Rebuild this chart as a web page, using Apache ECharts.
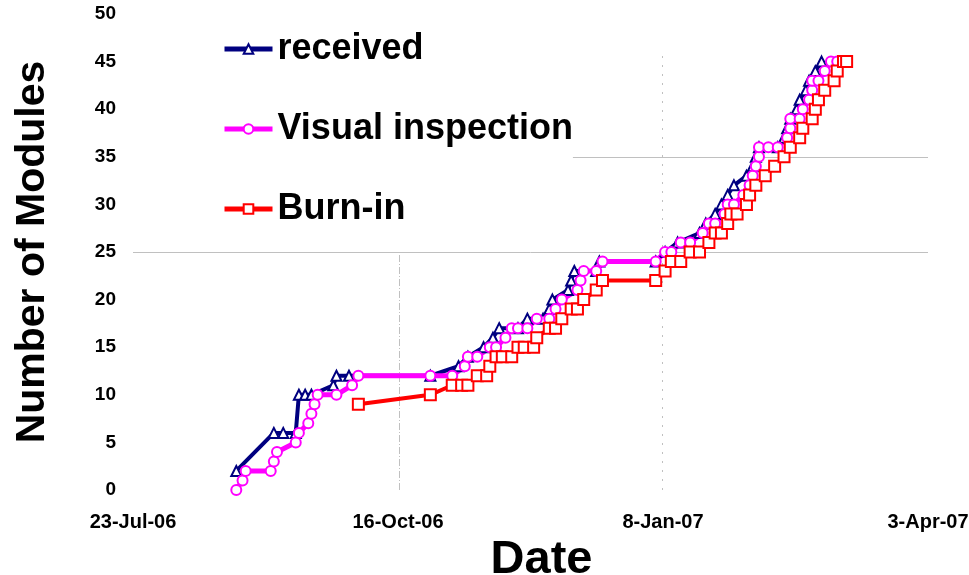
<!DOCTYPE html>
<html>
<head>
<meta charset="utf-8">
<title>Module production</title>
<script src="https://cdn.jsdelivr.net/npm/echarts@6/dist/echarts.min.js"></script>
<style>
  html, body { margin: 0; padding: 0; background: #fff; overflow: hidden; }
  #chart { width: 969px; height: 575px; }
</style>
</head>
<body>
<div id="chart"></div>
<script>
// Date axis tick labels and the dates they stand for
const tickLabels = ['23-Jul-06', '16-Oct-06', '8-Jan-07', '3-Apr-07'];
const tickDates = ['2006-07-23', '2006-10-16', '2007-01-08', '2007-04-03'];

// Horizontal reference lines (module counts)
const gridCounts = [25, 35];

// Modules received
const receivedDates = [
  '2006-08-25', '2006-09-06', '2006-09-09', '2006-09-13', '2006-09-14', '2006-09-16',
  '2006-09-18', '2006-09-25', '2006-09-26', '2006-09-30', '2006-10-26', '2006-11-04',
  '2006-11-07', '2006-11-12', '2006-11-15', '2006-11-17', '2006-11-23', '2006-11-26',
  '2006-12-01', '2006-12-03', '2006-12-04', '2006-12-09', '2006-12-10', '2006-12-11',
  '2006-12-18', '2006-12-19', '2007-01-06', '2007-01-09', '2007-01-13', '2007-01-20',
  '2007-01-22', '2007-01-25', '2007-01-27', '2007-01-29', '2007-01-31', '2007-02-04',
  '2007-02-06', '2007-02-07', '2007-02-08', '2007-02-14', '2007-02-16', '2007-02-17',
  '2007-02-18', '2007-02-20', '2007-02-21', '2007-02-23', '2007-02-24', '2007-02-26',
  '2007-02-28'
];
const receivedCounts = [
  2, 6, 6, 6, 10, 10,
  10, 11, 12, 12, 12, 13,
  14, 15, 16, 17, 17, 18,
  18, 19, 20, 21, 22, 23,
  23, 24, 24, 25, 26, 27,
  28, 29, 30, 31, 32, 33,
  34, 35, 36, 36, 37, 38,
  39, 40, 41, 42, 43, 44,
  45
];

// Modules through visual inspection
const visualDates = [
  '2006-08-25', '2006-08-27', '2006-08-28', '2006-09-05', '2006-09-06', '2006-09-07',
  '2006-09-13', '2006-09-14', '2006-09-17', '2006-09-18', '2006-09-19', '2006-09-20',
  '2006-09-26', '2006-10-01', '2006-10-03', '2006-10-26', '2006-11-02', '2006-11-06',
  '2006-11-07', '2006-11-10', '2006-11-14', '2006-11-16', '2006-11-19', '2006-11-21',
  '2006-11-23', '2006-11-26', '2006-11-29', '2006-12-03', '2006-12-05', '2006-12-07',
  '2006-12-12', '2006-12-13', '2006-12-14', '2006-12-18', '2006-12-20', '2007-01-06',
  '2007-01-09', '2007-01-11', '2007-01-14', '2007-01-17', '2007-01-21', '2007-01-23',
  '2007-01-25', '2007-01-28', '2007-01-29', '2007-01-31', '2007-02-03', '2007-02-05',
  '2007-02-06', '2007-02-07', '2007-02-08', '2007-02-08', '2007-02-11', '2007-02-14',
  '2007-02-17', '2007-02-18', '2007-02-18', '2007-02-21', '2007-02-22', '2007-02-24',
  '2007-02-25', '2007-02-25', '2007-02-27', '2007-03-01', '2007-03-03', '2007-03-05'
];
const visualCounts = [
  0, 1, 2, 2, 3, 4,
  5, 6, 7, 8, 9, 10,
  10, 11, 12, 12, 12, 13,
  14, 14, 15, 15, 16, 17,
  17, 17, 18, 18, 19, 20,
  21, 22, 23, 23, 24, 24,
  25, 25, 26, 26, 27, 28,
  28, 29, 30, 30, 31, 32,
  33, 34, 35, 36, 36, 36,
  37, 38, 39, 39, 40, 41,
  42, 43, 43, 44, 45, 45
];

// Modules through burn-in
const burnDates = [
  '2006-10-03', '2006-10-26', '2006-11-02', '2006-11-05', '2006-11-07', '2006-11-10',
  '2006-11-13', '2006-11-14', '2006-11-16', '2006-11-18', '2006-11-21', '2006-11-23',
  '2006-11-25', '2006-11-28', '2006-11-29', '2006-12-03', '2006-12-05', '2006-12-07',
  '2006-12-10', '2006-12-12', '2006-12-14', '2006-12-18', '2006-12-20', '2007-01-06',
  '2007-01-09', '2007-01-11', '2007-01-14', '2007-01-17', '2007-01-20', '2007-01-23',
  '2007-01-25', '2007-01-27', '2007-01-29', '2007-01-30', '2007-02-01', '2007-02-04',
  '2007-02-05', '2007-02-07', '2007-02-10', '2007-02-13', '2007-02-16', '2007-02-18',
  '2007-02-21', '2007-02-22', '2007-02-25', '2007-02-26', '2007-02-27', '2007-03-01',
  '2007-03-04', '2007-03-05', '2007-03-07', '2007-03-08'
];
const burnCounts = [
  9, 10, 11, 11, 11, 12,
  12, 13, 14, 14, 14, 15,
  15, 15, 16, 17, 17, 18,
  19, 19, 20, 21, 22, 22,
  23, 24, 24, 25, 25, 26,
  27, 27, 28, 29, 29, 30,
  31, 32, 33, 34, 35, 36,
  37, 38, 39, 40, 41, 42,
  43, 44, 45, 45
];

// Days elapsed since the first axis date
const DAY = 86400000;
function toUTC(s) {
  const p = s.split('-').map(Number);
  return Date.UTC(p[0], p[1] - 1, p[2]);
}
const origin = toUTC(tickDates[0]);
function dayOf(s) { return Math.round((toUTC(s) - origin) / DAY); }
function pairs(dates, counts) { return dates.map((d, i) => [dayOf(d), counts[i]]); }

const tickDays = tickDates.map(dayOf);
const span = tickDays[tickDays.length - 1];
const step = span / (tickLabels.length - 1);

const FONT = '"Liberation Sans", Arial, sans-serif';
const NAVY = '#000080';
const MAGENTA = '#ff00ff';
const RED = '#ff0000';

const chart = echarts.init(document.getElementById('chart'), null, { renderer: 'canvas' });

chart.setOption({
  animation: false,
  backgroundColor: '#ffffff',
  textStyle: { fontFamily: FONT },
  grid: {
    left: 133, right: 41, top: 14, bottom: 85,
    containLabel: false,
    outerBoundsMode: 'none'
  },
  legend: {
    orient: 'vertical',
    left: 133,
    top: 0,
    padding: [31, 0, 24, 89],
    backgroundColor: '#ffffff',
    itemWidth: 48,
    itemHeight: 12,
    itemGap: 44,
    lineStyle: { width: 5 },
    textStyle: {
      fontFamily: FONT, fontWeight: 'bold', fontSize: 36, color: '#000', lineHeight: 36
    },
    data: ['received', 'Visual inspection', 'Burn-in']
  },
  xAxis: {
    type: 'value',
    min: 0,
    max: span,
    interval: step,
    name: 'Date',
    nameLocation: 'middle',
    nameGap: 39,
    nameTextStyle: { fontFamily: FONT, fontWeight: 'bold', fontSize: 47, color: '#000', padding: [0, 0, 0, 22] },
    axisLine: { show: false },
    axisTick: { show: false },
    splitLine: { show: false },
    axisLabel: {
      margin: 22,
      fontFamily: FONT, fontWeight: 'bold', fontSize: 20, color: '#000',
      showMinLabel: true, showMaxLabel: true,
      formatter: v => tickLabels[Math.round(v / step)] || ''
    }
  },
  yAxis: {
    type: 'value',
    min: 0,
    max: 50,
    interval: 5,
    name: 'Number of Modules',
    nameLocation: 'middle',
    nameGap: 80,
    nameTextStyle: { fontFamily: FONT, fontWeight: 'bold', fontSize: 41, color: '#000' },
    axisLine: { show: false },
    axisTick: { show: false },
    splitLine: { show: false },
    axisLabel: { margin: 17, fontFamily: FONT, fontWeight: 'bold', fontSize: 19, color: '#000' }
  },
  series: [
    {
      // reference lines drawn beneath the legend box
      type: 'line',
      data: [],
      silent: true,
      markLine: {
        z: 1,
        silent: true,
        symbol: 'none',
        label: { show: false },
        lineStyle: { color: '#c0c0c0', width: 1, type: 'solid' },
        data: [
          { yAxis: gridCounts[0] },
          { yAxis: gridCounts[1] },
          { xAxis: tickDays[1], lineStyle: { type: [7, 2, 1, 2] } },
          [
            { coord: [tickDays[2], 0], lineStyle: { type: [2, 7] } },
            { coord: [tickDays[2], 45.8] }
          ]
        ]
      }
    },
    {
      name: 'received',
      type: 'line',
      data: pairs(receivedDates, receivedCounts),
      symbol: 'triangle',
      symbolSize: 10,
      showAllSymbol: true,
      lineStyle: { color: NAVY, width: 4 },
      itemStyle: { color: '#ffffff', borderColor: NAVY, borderWidth: 2 },
      emphasis: { disabled: true }
    },
    {
      name: 'Visual inspection',
      type: 'line',
      data: pairs(visualDates, visualCounts),
      symbol: 'circle',
      symbolSize: 10,
      showAllSymbol: true,
      lineStyle: { color: MAGENTA, width: 5 },
      itemStyle: { color: '#ffffff', borderColor: MAGENTA, borderWidth: 2 },
      emphasis: { disabled: true }
    },
    {
      name: 'Burn-in',
      type: 'line',
      data: pairs(burnDates, burnCounts),
      symbol: 'rect',
      symbolSize: 11,
      showAllSymbol: true,
      lineStyle: { color: RED, width: 4 },
      itemStyle: { color: '#ffffff', borderColor: RED, borderWidth: 2 },
      emphasis: { disabled: true }
    }
  ]
});
</script>
</body>
</html>
